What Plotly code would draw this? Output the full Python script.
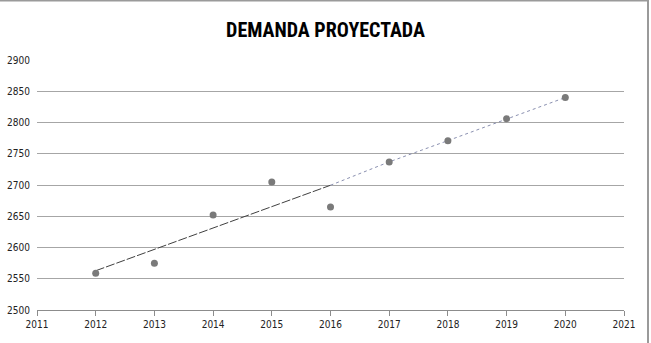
import numpy as np
import plotly.graph_objects as go

years_hist = [2012, 2013, 2014, 2015, 2016]
demand_hist = [2559, 2575, 2652, 2705, 2665]
years_proj = [2017, 2018, 2019, 2020]
demand_proj = [2737, 2771, 2806, 2840]
x_ticks = list(range(2011, 2022))
y_ticks = list(range(2500, 2901, 50))

W, H = 651, 343
ML, MR, MT, MB = 37, 27, 60, 33

slope, icpt = np.polyfit(years_hist, demand_hist, 1)
trend_x = [years_hist[0], years_hist[-1]]
trend_y = [slope * x + icpt for x in trend_x]

fig = go.Figure()
fig.add_trace(go.Scatter(x=trend_x, y=trend_y, mode="lines",
                         line=dict(color="#404040", width=1, dash="9px,2px"),
                         hoverinfo="skip", showlegend=False))
fig.add_trace(go.Scatter(x=[trend_x[-1]] + years_proj, y=[trend_y[-1]] + demand_proj,
                         mode="lines", line=dict(color="#8a90b0", width=1, dash="dot"),
                         hoverinfo="skip", showlegend=False))
fig.add_trace(go.Scatter(x=years_hist + years_proj, y=demand_hist + demand_proj,
                         mode="markers", marker=dict(color="#7a7a7a", size=7),
                         showlegend=False))

pw = W - ML - MR
ph = H - MT - MB
px = lambda p: (p - ML) / pw
py = lambda p: (H - MB - p) / ph

fig.update_layout(
    width=W, height=H,
    margin=dict(l=ML, r=MR, t=MT, b=MB),
    paper_bgcolor="white", plot_bgcolor="white",
    title=dict(text="<b>DEMANDA PROYECTADA</b>", x=0.5, xanchor="center", y=1 - 30 / H, yanchor="middle",
               font=dict(family="Liberation Sans Narrow, Roboto Condensed, Arial Narrow, sans-serif",
                         size=20, color="black")),
    xaxis=dict(range=[2011, 2021], tickvals=x_ticks, ticktext=[str(t) for t in x_ticks],
               showgrid=False, zeroline=False, showline=True, linecolor="#8c8c8c", linewidth=1,
               ticks="outside", ticklen=5, tickcolor="#8c8c8c", automargin=False,
               tickfont=dict(family="DejaVu Sans Condensed, Liberation Sans Narrow, sans-serif", size=10, color="#222"),
               fixedrange=True),
    yaxis=dict(range=[2500, 2900], tickvals=y_ticks, ticktext=[str(t) for t in y_ticks],
               showgrid=True, gridcolor="#a6a6a6", gridwidth=1, zeroline=False, showline=False,
               ticks="", ticklabelstandoff=6, automargin=False,
               tickfont=dict(family="DejaVu Sans Condensed, Liberation Sans Narrow, sans-serif", size=10, color="#222"),
               fixedrange=True),
    shapes=[
        dict(type="line", xref="paper", yref="paper", x0=px(0), x1=px(649), y0=py(0.5), y1=py(0.5),
             line=dict(color="#9a9a9a", width=2)),
        dict(type="line", xref="paper", yref="paper", x0=px(648), x1=px(648), y0=py(0), y1=py(343),
             line=dict(color="#9a9a9a", width=2)),
    ],
)
# hide 2900 gridline by covering it
fig.add_shape(type="line", xref="paper", yref="y", x0=0, x1=1, y0=2900, y1=2900,
              line=dict(color="white", width=2), layer="above")

fig.write_html("out.html")
